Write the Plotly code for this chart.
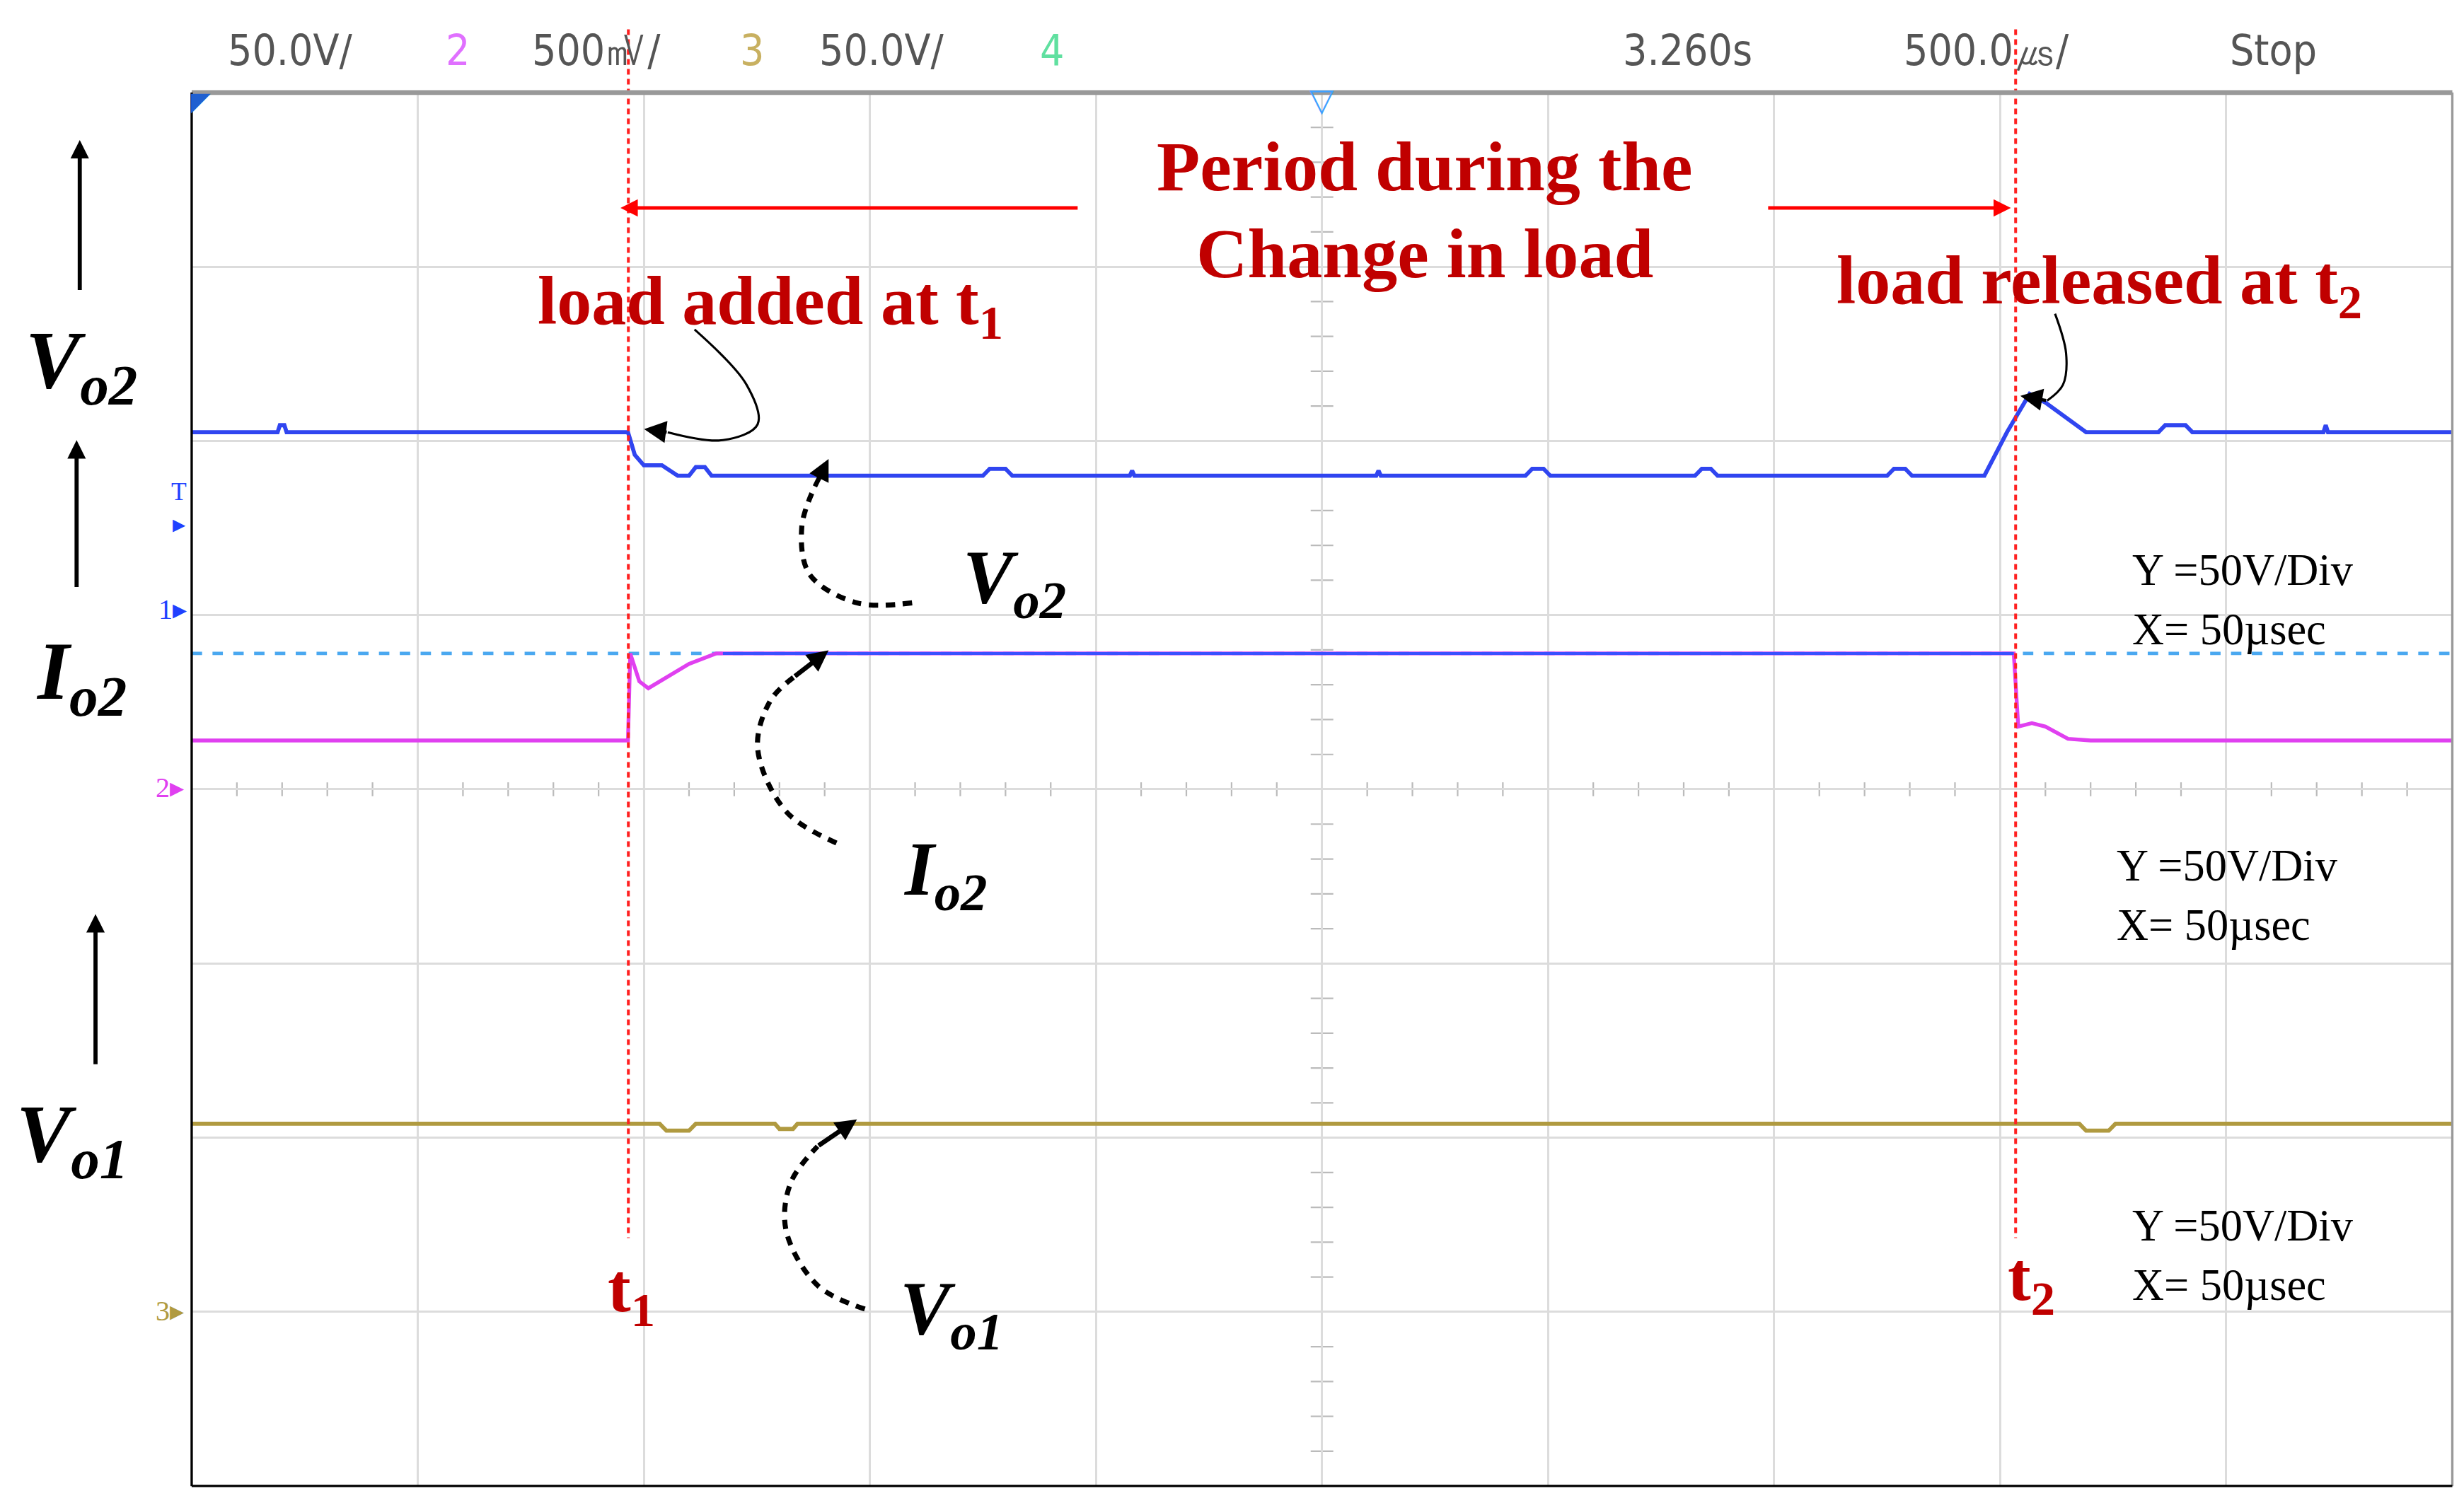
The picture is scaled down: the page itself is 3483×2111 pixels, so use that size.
import plotly.graph_objects as go

W, H = 3483, 2111
S = W / 1563  # reference drawn at 1563x945 scale
PW, PH = 1563, 945

# ---- scope traces, x in divisions (0-10), y in divisions (0-8) ----
vo2_x = [0, 0.38, 0.39, 0.41, 0.42, 1.93, 1.96, 2.0, 2.08, 2.15, 2.2, 2.23, 2.27, 2.3, 3.5, 3.53, 3.6, 3.63,
         4.15, 4.16, 4.17, 5.24, 5.25, 5.26, 5.9, 5.93, 5.98, 6.01, 6.65, 6.68, 6.72, 6.75, 7.5, 7.53, 7.58, 7.61,
         7.93, 8.03, 8.13, 8.2, 8.38, 8.7, 8.73, 8.82, 8.85, 9.43, 9.44, 9.45, 10]
vo2_y = [6.05, 6.05, 6.09, 6.09, 6.05, 6.05, 5.92, 5.86, 5.86, 5.80, 5.80, 5.85, 5.85, 5.80, 5.80, 5.84, 5.84, 5.80,
         5.80, 5.83, 5.80, 5.80, 5.83, 5.80, 5.80, 5.84, 5.84, 5.80, 5.80, 5.84, 5.84, 5.80, 5.80, 5.84, 5.84, 5.80,
         5.80, 6.05, 6.27, 6.22, 6.05, 6.05, 6.09, 6.09, 6.05, 6.05, 6.09, 6.05, 6.05]

io2_x = [0, 1.93, 1.94, 1.98, 2.02, 2.1, 2.2, 2.32, 8.06, 8.08, 8.14, 8.2, 8.3, 8.4, 10]
io2_y = [4.28, 4.28, 4.78, 4.62, 4.58, 4.64, 4.72, 4.78, 4.78, 4.36, 4.38, 4.36, 4.29, 4.28, 4.28]

vo1_x = [0, 2.07, 2.1, 2.2, 2.23, 2.58, 2.6, 2.66, 2.68, 8.35, 8.38, 8.48, 8.51, 10]
vo1_y = [2.08, 2.08, 2.04, 2.04, 2.08, 2.08, 2.05, 2.05, 2.08, 2.08, 2.04, 2.04, 2.08, 2.08]

iref_y = 4.78  # blue dashed reference level

header = [(140, "50.0V/", "#555"), (278, "2", "#e070ff"), (333, "500㎷/", "#555"), (465, "3", "#c8b060"),
          (515, "50.0V/", "#555"), (655, "4", "#60e0a0"), (1025, "3.260s", "#555"),
          (1203, "500.0㎲/", "#555"), (1410, "Stop", "#555")]

fig = go.Figure()

# main scope area
fig.add_trace(go.Scatter(x=[0, 10], y=[iref_y, iref_y], mode="lines",
                         line=dict(color="#4aa8f0", width=2.2 * S, dash="dash"), hoverinfo="skip"))
fig.add_trace(go.Scatter(x=io2_x, y=io2_y, mode="lines", line=dict(color="#e040f0", width=2.4 * S), hoverinfo="skip"))
fig.add_trace(go.Scatter(x=[2.35, 8.06], y=[iref_y, iref_y], mode="lines",
                         line=dict(color="#3a50ff", width=1.8 * S), hoverinfo="skip"))
fig.add_trace(go.Scatter(x=vo2_x, y=vo2_y, mode="lines", line=dict(color="#3045f0", width=2.6 * S), hoverinfo="skip"))
fig.add_trace(go.Scatter(x=vo1_x, y=vo1_y, mode="lines", line=dict(color="#b09a40", width=2.6 * S), hoverinfo="skip"))

# overlay canvas in reference pixel units
def ov(x, y, **kw):
    fig.add_trace(go.Scatter(x=x, y=y, xaxis="x2", yaxis="y2", hoverinfo="skip", **kw))

# dotted red time markers
for tx in (395, 1275):
    ov([tx, tx], [15, 780], mode="lines", line=dict(color="#ff2020", width=1.8 * S, dash="%dpx,%dpx" % (4 * S, 3 * S)))
# red horizontal arrows
ov([680, 400], [128, 128], mode="lines", line=dict(color="#ff0000", width=2.2 * S))
ov([1118, 1262], [128, 128], mode="lines", line=dict(color="#ff0000", width=2.2 * S))
# black up arrows at left
for ax_, y0, y1 in ((47, 180, 95), (45, 368, 285), (57, 670, 585)):
    ov([ax_, ax_], [y0, y1], mode="lines", line=dict(color="black", width=2.6 * S))
# black solid curved arrows
ov([437, 470, 477, 455, 420], [205, 240, 265, 275, 270], mode="lines", line=dict(color="black", width=1.4 * S, shape="spline"))
ov([1300, 1307, 1305, 1295], [195, 220, 240, 250], mode="lines", line=dict(color="black", width=1.4 * S, shape="spline"))
# dashed curved arrows
for pts in (([575, 540, 510, 505, 513], [378, 378, 360, 330, 305]),
            ([527, 495, 477, 485, 500], [530, 510, 470, 440, 425]),
            ([545, 515, 495, 498, 515], [825, 810, 775, 745, 722])):
    ov(pts[0], pts[1], mode="lines",
       line=dict(color="black", width=3.2 * S, dash="%dpx,%dpx" % (6 * S, 5 * S), shape="spline"))

ann = []
def arrowhead(x, y, fx, fy, color, size=1.4, width=1.6):
    ann.append(dict(x=x, y=y, ax=fx, ay=fy, xref="x2", yref="y2", axref="x2", ayref="y2", text="",
                    showarrow=True, arrowhead=2, arrowsize=size, arrowwidth=width * S, arrowcolor=color))

arrowhead(390, 128, 400, 128, "#ff0000", 1.0, 2.2)
arrowhead(1272, 128, 1262, 128, "#ff0000", 1.0, 2.2)
arrowhead(47, 85, 47, 95, "black", 0.9, 2.6)
arrowhead(45, 275, 45, 285, "black", 0.9, 2.6)
arrowhead(57, 575, 57, 585, "black", 0.9, 2.6)
arrowhead(405, 268, 420, 270, "black", 1.4, 2.0)
arrowhead(1278, 247, 1295, 250, "black", 1.4, 2.0)
arrowhead(522, 287, 513, 305, "black", 0.9, 3.0)
arrowhead(522, 408, 500, 425, "black", 0.9, 3.0)
arrowhead(540, 705, 515, 722, "black", 0.9, 3.0)

def txt(x, y, t, size, color="black", fam="Liberation Serif", xa="center"):
    ann.append(dict(x=x, y=y, xref="x2", yref="y2", text=t, showarrow=False, xanchor=xa, yanchor="middle",
                    font=dict(family=fam, size=size * S, color=color)))

for hx, ht, hc in header:
    txt(hx, 28, ht, 27, hc, "DejaVu Sans Condensed", "left")

red = "#c00000"
txt(900, 102, "<b>Period during the</b>", 45, red)
txt(900, 157, "<b>Change in load</b>", 45, red)
txt(485, 190, "<b>load added at t<sub>1</sub></b>", 44, red)
txt(1328, 177, "<b>load released at t<sub>2</sub></b>", 44, red)
txt(397, 815, "<b>t<sub>1</sub></b>", 44, red)
txt(1285, 808, "<b>t<sub>2</sub></b>", 44, red)

txt(48, 228, "<b><i>V<sub>o2</sub></i></b>", 52)
txt(48, 425, "<b><i>I<sub>o2</sub></i></b>", 52)
txt(42, 718, "<b><i>V<sub>o1</sub></i></b>", 52)
txt(640, 365, "<b><i>V<sub>o2</sub></i></b>", 48)
txt(596, 550, "<b><i>I<sub>o2</sub></i></b>", 48)
txt(600, 828, "<b><i>V<sub>o1</sub></i></b>", 48)

for yy, xx in ((375, 1348), (562, 1338), (790, 1348)):
    txt(xx, yy - 18, "Y =50V/Div", 28, xa="left")
    txt(xx, yy + 20, "X= 50µsec", 28, xa="left")

# channel markers on left edge
txt(110, 318, "T<br>▸", 16, "#2040ff")
txt(106, 382, "1▸", 18, "#2040ff")
txt(104, 495, "2▸", 18, "#e040f0")
txt(104, 826, "3▸", 18, "#b09a40")
txt(835, 60, "▽", 20, "#40a0ff")
txt(124, 61, "◤", 16, "#2060d0")

# plot-area domains (reference pixels: x 118..1552, y 55..937)
xd = [118 / PW, 1552 / PW]
yd = [1 - 937 / PH, 1 - 55 / PH]

shapes = [
    dict(type="line", xref="paper", yref="paper", x0=xd[0], x1=xd[1], y0=yd[1], y1=yd[1], line=dict(color="#999", width=3 * S)),
    dict(type="line", xref="paper", yref="paper", x0=xd[1], x1=xd[1], y0=yd[0], y1=yd[1], line=dict(color="#999", width=1.5 * S)),
    dict(type="line", xref="paper", yref="paper", x0=xd[0], x1=xd[0], y0=yd[0], y1=yd[1], line=dict(color="black", width=1.5 * S)),
    dict(type="line", xref="paper", yref="paper", x0=xd[0], x1=xd[1], y0=yd[0], y1=yd[0], line=dict(color="black", width=1.5 * S)),
]
# center-line minor ticks
for i in range(1, 50):
    shapes.append(dict(type="line", xref="x", yref="y", x0=i / 5, x1=i / 5, y0=3.96, y1=4.04,
                       line=dict(color="#bbb", width=1 * S), layer="below"))
for i in range(1, 40):
    shapes.append(dict(type="line", xref="x", yref="y", x0=4.95, x1=5.05, y0=i / 5, y1=i / 5,
                       line=dict(color="#bbb", width=1 * S), layer="below"))

fig.update_layout(
    width=W, height=H, margin=dict(l=0, r=0, t=0, b=0),
    plot_bgcolor="rgba(0,0,0,0)", paper_bgcolor="white", showlegend=False,
    xaxis=dict(domain=xd, range=[0, 10], dtick=1, showgrid=True, gridcolor="#dcdcdc", gridwidth=1.3 * S,
               zeroline=False, showticklabels=False, ticks=""),
    yaxis=dict(domain=yd, range=[0, 8], dtick=1, showgrid=True, gridcolor="#dcdcdc", gridwidth=1.3 * S,
               zeroline=False, showticklabels=False, ticks=""),
    xaxis2=dict(domain=[0, 1], range=[0, PW], visible=False, anchor="y2"),
    yaxis2=dict(domain=[0, 1], range=[PH, 0], visible=False, anchor="x2"),
    annotations=ann, shapes=shapes,
)

fig.write_html("out.html")
